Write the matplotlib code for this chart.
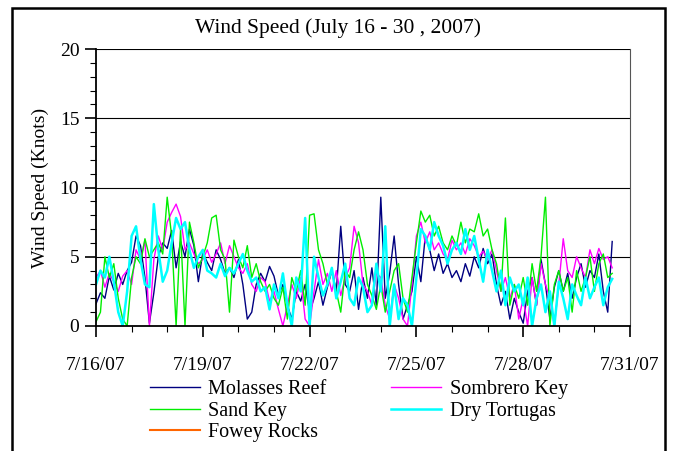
import numpy as np
import pandas as pd
import matplotlib
matplotlib.use("Agg")
import matplotlib.pyplot as plt
import matplotlib.dates as mdates
from matplotlib.ticker import MultipleLocator, FuncFormatter
from matplotlib.patches import Rectangle

# 3-hourly readings, 7/16/07 00:00 -> 7/30/07 12:00 (knots)
molasses = [1.6, 2.4, 2.0, 3.6, 2.6, 3.8, 3.0, 4.0,
            4.6, 6.5, 5.8, 3.5, 0.2, 2.4, 5.0, 6.0,
            5.6, 6.9, 4.2, 6.1, 5.0, 7.0, 5.8, 3.2,
            5.3, 4.6, 4.0, 5.5, 4.8, 3.8, 4.2, 3.5,
            4.8, 3.0, 0.5, 1.0, 3.0, 3.8, 3.2, 4.3,
            3.6, 2.2, 3.0, 1.5, 0.5, 2.5, 1.8, 3.0,
            1.0, 2.0, 3.2, 1.5, 2.8, 4.0, 2.5, 7.2,
            3.0, 2.5, 4.0, 1.2, 3.5, 2.0, 4.2, 1.5,
            9.3, 2.0, 3.8, 6.5, 3.0, 0.5, 1.5, 2.5,
            5.0, 3.2, 6.5, 5.5, 4.0, 5.2, 3.8, 4.5,
            3.5, 4.0, 3.2, 4.5, 3.6, 5.0, 4.2, 5.6,
            4.5, 5.2, 3.0, 1.5, 2.5, 0.5, 2.0, 1.0,
            0.2, 2.5, 3.5, 1.5, 4.8, 3.0, 0.5, 2.8,
            4.0, 2.5, 3.8, 2.0, 3.5, 4.5, 2.8, 4.0,
            3.5, 5.2, 2.5, 1.0, 6.1]

sombrero = [3.5, 4.0, 2.8, 3.8, 3.2, 2.5, 3.6, 4.0,
            3.0, 5.5, 4.8, 6.2, 0.0, 4.8, 6.5, 5.5,
            7.5, 8.2, 8.8, 7.9, 5.5, 6.0, 5.2, 4.5,
            4.8, 5.5, 4.6, 5.2, 6.0, 4.5, 5.8, 5.0,
            4.2, 3.8, 4.5, 3.0, 2.5, 3.5, 3.2, 1.8,
            2.5, 1.2, 0.0, 1.5, 3.0, 2.0, 3.5, 0.5,
            0.0, 2.5, 4.8, 3.0, 3.8, 2.5, 4.0, 2.2,
            3.5, 4.2, 7.2, 6.0, 3.0, 2.5, 1.5, 3.8,
            3.5, 1.5, 0.5, 3.0, 2.0, 0.5, 0.0, 3.0,
            6.5, 7.5, 6.0, 6.8, 5.5, 6.0, 5.2, 4.8,
            6.2, 5.5, 6.0, 5.2, 6.3, 5.8, 5.0, 5.4,
            4.8, 5.5, 4.0, 2.5, 3.5, 2.0, 3.0, 0.5,
            2.0, 0.0, 3.5, 1.5, 4.5, 3.0, 2.0, 0.0,
            3.0, 6.3, 4.0, 3.5, 5.0, 4.2, 3.5, 5.5,
            4.5, 5.6, 4.8, 5.0, 4.2]

sand_key = [0.3, 1.0, 5.0, 3.5, 4.5, 2.0, 0.5, 0.0,
            3.5, 5.0, 4.5, 6.3, 5.0, 5.5, 6.0, 5.2,
            9.3, 6.5, 0.0, 7.0, 0.0, 7.5, 6.0, 4.2,
            5.0, 6.0, 7.8, 8.0, 5.5, 4.8, 1.0, 6.2,
            5.0, 4.2, 5.8, 3.5, 4.5, 3.2, 2.5, 3.0,
            2.0, 1.5, 2.8, 0.5, 3.5, 2.5, 4.0, 1.5,
            8.0, 8.1, 5.5, 4.5, 3.0, 4.0, 2.5, 1.0,
            4.0, 3.5, 5.5, 6.8, 5.5, 3.0, 2.2, 1.2,
            3.0, 1.0, 2.5, 4.0, 4.5, 2.0, 1.0, 3.5,
            6.0, 8.3, 7.5, 8.0, 6.5, 7.2, 6.0, 5.5,
            6.5, 5.8, 7.5, 6.0, 7.0, 6.8, 8.1, 6.5,
            7.0, 5.5, 4.5, 2.5, 7.8, 1.5, 3.0, 2.0,
            3.5, 1.5, 4.5, 2.5, 5.0, 9.3, 0.0, 3.0,
            4.0, 2.5, 3.5, 1.0, 4.0, 2.5, 3.5, 5.0,
            2.5, 4.5, 5.2, 3.5, 3.8]

tortugas = [3.0, 4.0, 3.5, 5.0, 3.2, 1.0, 0.0, 2.5,
            6.5, 7.2, 4.8, 3.0, 2.8, 8.8, 5.5, 3.2,
            4.0, 6.0, 7.8, 7.0, 7.5, 5.5, 4.2, 5.0,
            5.5, 4.0, 3.8, 3.5, 4.5, 3.6, 4.2, 3.8,
            4.5, 5.2, 4.0, 3.2, 3.5, 2.5, 2.8, 1.2,
            3.0, 2.0, 3.8, 1.5, 0.0, 3.5, 2.5, 7.8,
            0.0, 5.0, 3.5, 2.2, 3.0, 4.2, 2.0, 3.2,
            4.5, 2.0, 1.5, 3.5, 2.8, 1.0, 1.5, 4.5,
            2.5, 7.2, 0.0, 3.0, 0.5, 2.0, 1.5, 0.0,
            3.5, 7.0, 6.5, 5.5, 7.5, 6.5, 5.8, 4.5,
            5.5, 6.0, 5.2, 7.0, 5.5, 6.5, 4.8, 3.2,
            5.5, 4.0, 2.5, 4.0, 1.5, 3.5, 2.5, 3.0,
            1.5, 3.5, 0.0, 2.0, 3.0, 1.0, 2.5, 0.0,
            3.2, 2.0, 0.5, 3.0, 2.2, 1.5, 3.5, 2.0,
            2.8, 3.5, 1.5, 2.8, 3.4]

fowey = []  # no data in this period

times = pd.date_range("2007-07-16", periods=len(molasses), freq="3h")

plt.rcParams['font.family'] = ['Liberation Serif', 'DejaVu Serif']

fig = plt.figure(figsize=(6.75, 4.51), dpi=100)
ax = fig.add_axes([96/675, 1-326/451, 534/675, 277/451])

l1, = ax.plot(times, molasses, color='#000080', lw=1.0)
l2, = ax.plot(times, sombrero, color='#ff00ff', lw=1.0)
l3, = ax.plot(times, sand_key, color='#00ee00', lw=1.0)
l4, = ax.plot(times, tortugas, color='#00ffff', lw=1.8)
l5, = ax.plot(times[:len(fowey)], fowey, color='#ff6600', lw=1.5)

ax.set_ylim(0, 20)
ax.set_xlim(pd.Timestamp("2007-07-16"), pd.Timestamp("2007-07-31"))
ax.yaxis.set_major_locator(MultipleLocator(5))
ax.yaxis.set_minor_locator(MultipleLocator(1))
ax.xaxis.set_major_locator(mdates.DayLocator(interval=3))
ax.xaxis.set_minor_locator(mdates.DayLocator())
ax.xaxis.set_major_formatter(FuncFormatter(
    lambda v, p: "{d.month}/{d.day}/{y}".format(d=mdates.num2date(v), y=mdates.num2date(v).strftime('%y'))))

for yv in [5, 10, 15, 20]:
    ax.axhline(yv, color='black', lw=0.8, zorder=0)

ax.tick_params(which='major', direction='out', length=8, width=1.2, labelsize=14, pad=4)
ax.tick_params(which='minor', direction='out', length=4, width=0.8)
ax.tick_params(axis='x', which='major', pad=14)
ax.spines['left'].set_linewidth(1.3)
ax.spines['bottom'].set_linewidth(1.3)
ax.spines['top'].set_visible(False)
ax.spines['right'].set_color('#555555')
ax.spines['right'].set_linewidth(0.8)

ax.set_ylabel("Wind Speed (Knots)", fontsize=14, labelpad=8)
fig.text(0.501, 1-28/451, "Wind Speed (July 16 - 30 , 2007)", ha='center', va='center', fontsize=15.5)

fig.legend([l1, l3, l5, l2, l4],
           ["Molasses Reef", "Sand Key", "Fowey Rocks", "Sombrero Key", "Dry Tortugas"],
           ncol=2, loc='upper left', bbox_to_anchor=(150/675, 1-380/451),
           frameon=False, fontsize=14.5, handlelength=2.5, handletextpad=0.4,
           labelspacing=0.12, columnspacing=3.2, borderpad=0, borderaxespad=0)

fig.patches.append(Rectangle((12/675, -0.05), 653/675, 1.05-8/451, transform=fig.transFigure,
                             fill=False, edgecolor='black', lw=1.8))

fig.savefig("out.png", dpi=100)
